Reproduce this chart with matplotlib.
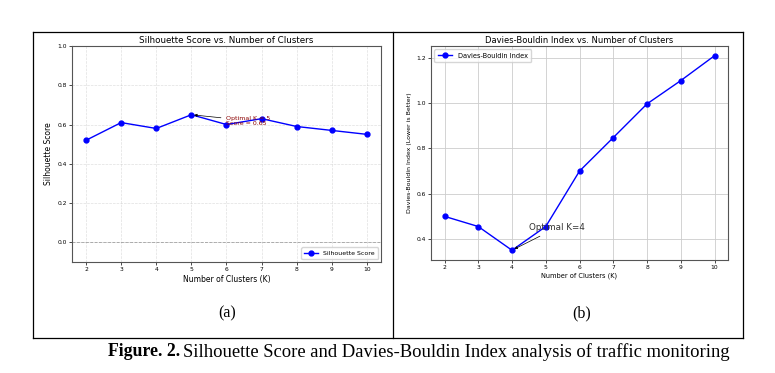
import matplotlib
matplotlib.use("Agg")
import matplotlib.pyplot as plt
from matplotlib.lines import Line2D

k_values = [2, 3, 4, 5, 6, 7, 8, 9, 10]
silhouette = [0.52, 0.61, 0.58, 0.65, 0.60, 0.63, 0.59, 0.57, 0.55]
davies_bouldin = [0.50, 0.455, 0.35, 0.455, 0.70, 0.848, 0.997, 1.10, 1.21]
best_sil_k, best_sil = 5, 0.65
best_db_k, best_db = 4, 0.35

fig = plt.figure(figsize=(7.75, 3.73), dpi=100)
fig.patch.set_facecolor("white")

def px(x0, y0, x1, y1):
    W, H = 775, 373
    return [x0 / W, 1 - y1 / H, (x1 - x0) / W, (y1 - y0) / H]

# ---- left panel
ax1 = fig.add_axes(px(72, 46, 381, 262))
ax1.plot(k_values, silhouette, "o-", color="blue", lw=1.0, ms=3.5, label="Silhouette Score")
ax1.set_ylim(-0.1, 1.0)
ax1.axhline(0, color="grey", ls="--", lw=0.6, alpha=0.7)
ax1.grid(True, ls="--", lw=0.5, alpha=0.4)
ax1.set_title("Silhouette Score vs. Number of Clusters", fontsize=6.3, pad=2.5)
ax1.set_xlabel("Number of Clusters (K)", fontsize=5.5, labelpad=2)
ax1.set_ylabel("Silhouette Score", fontsize=5.5, labelpad=3)
ax1.set_xticks(k_values)
ax1.tick_params(labelsize=4.3, length=2, width=0.5, pad=1.5)
ax1.annotate(f"Optimal K = {best_sil_k}\nScore = {best_sil:.2f}",
             xy=(best_sil_k, best_sil), xytext=(6.0, 0.62),
             fontsize=4.5, color="darkred", va="center", linespacing=1.0,
             arrowprops=dict(arrowstyle="-|>", color="black", lw=0.5, mutation_scale=4))
ax1.legend(loc="lower right", fontsize=4.5, handlelength=2.2, borderpad=0.5)
for s in ax1.spines.values():
    s.set_color("#555555"); s.set_linewidth(0.8)

# ---- right panel
ax2 = fig.add_axes(px(431, 46, 728, 260))
ax2.plot(k_values, davies_bouldin, "o-", color="blue", lw=1.0, ms=3.5, label="Davies-Bouldin Index")
ax2.grid(True, color="#cccccc", lw=0.6)
ax2.set_title("Davies-Bouldin Index vs. Number of Clusters", fontsize=6.0, pad=2.5)
ax2.set_xlabel("Number of Clusters (K)", fontsize=4.8, labelpad=2)
ax2.set_ylabel("Davies-Bouldin Index (Lower is Better)", fontsize=4.5, labelpad=3)
ax2.set_xticks(k_values)
ax2.set_yticks([0.4, 0.6, 0.8, 1.0, 1.2])
ax2.tick_params(labelsize=4.3, length=2, width=0.5, pad=1.5)
ax2.annotate(f"Optimal K={best_db_k}", xy=(best_db_k, best_db), xytext=(4.5, 0.45),
             fontsize=6.3, color="#333333", va="center",
             arrowprops=dict(arrowstyle="-|>", color="black", lw=0.5, mutation_scale=4))
ax2.legend(loc="upper left", fontsize=4.8, handlelength=2.2, borderpad=0.5)
for s in ax2.spines.values():
    s.set_color("#555555"); s.set_linewidth(0.8)

# ---- table frame
W, H = 775, 373
def fl(x0, y0, x1, y1):
    fig.add_artist(Line2D([x0 / W, x1 / W], [1 - y0 / H, 1 - y1 / H], color="black", lw=0.9))
fl(33, 31.5, 743, 31.5)
fl(33, 338, 743, 338)
fl(33, 31.5, 33, 338)
fl(743, 31.5, 743, 338)
fl(393, 31.5, 393, 338)

serif = ["Liberation Serif", "DejaVu Serif"]
fig.text(227 / W, 1 - 313 / H, "(a)", ha="center", va="center", fontsize=11.5, family=serif)
fig.text(582 / W, 1 - 313 / H, "(b)", ha="center", va="center", fontsize=11.5, family=serif)

t1 = fig.text(108 / W, 1 - 352 / H, "Figure. 2.", ha="left", va="center",
              fontsize=12.8, family=serif, weight="bold")
fig.canvas.draw()
bb = t1.get_window_extent()
fig.text(bb.x1 / W + 3 / W, 1 - 352 / H,
         "Silhouette Score and Davies-Bouldin Index analysis of traffic monitoring",
         ha="left", va="center", fontsize=13.4, family=serif)

fig.savefig("out.png", dpi=100)
